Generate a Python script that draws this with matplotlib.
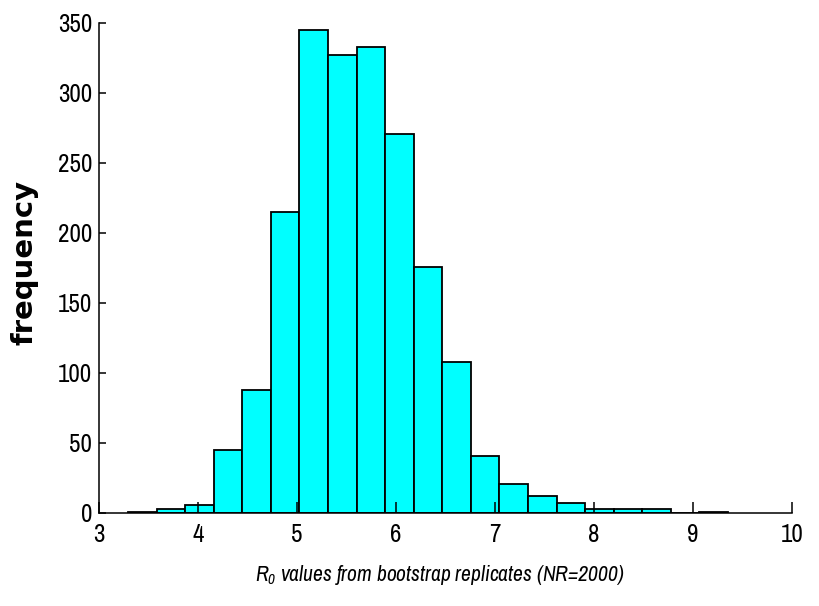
import matplotlib
matplotlib.use("Agg")
import matplotlib.pyplot as plt
import numpy as np

# histogram of bootstrap R0 estimates (21 equal bins, MATLAB hist style)
bin_lo = 3.293
bin_hi = 9.354
counts = [1, 3, 6, 45, 88, 215, 345, 327, 333, 271, 176,
          108, 41, 21, 12, 7, 3, 3, 3, 0, 1]
xticks = [3, 4, 5, 6, 7, 8, 9, 10]
yticks = [0, 50, 100, 150, 200, 250, 300, 350]

edges = np.linspace(bin_lo, bin_hi, len(counts) + 1)

narrow = ["Archivo Narrow", "DejaVu Sans"]
plt.rcParams["mathtext.fontset"] = "custom"
plt.rcParams["mathtext.it"] = "Archivo Narrow:italic"
plt.rcParams["mathtext.rm"] = "Archivo Narrow:italic"

fig = plt.figure(figsize=(8.19, 6.06), dpi=100)
ax = fig.add_axes([99 / 819, 93 / 606, 693 / 819, 490 / 606])

ax.bar(edges[:-1], counts, width=np.diff(edges), align="edge",
       color="#00ffff", edgecolor="black", linewidth=1.3)

ax.set_xlim(3, 10)
ax.set_ylim(0, 350)
ax.set_xticks(xticks)
ax.set_yticks(yticks)
ax.tick_params(axis="x", direction="in", length=8, width=1.1, labelsize=18, pad=7)
ax.tick_params(axis="y", direction="in", length=5, width=1.1, labelsize=18, pad=5)
for lab in ax.get_xticklabels() + ax.get_yticklabels():
    lab.set_family(narrow)

ax.spines["top"].set_visible(False)
ax.spines["right"].set_visible(False)
ax.spines["left"].set_linewidth(1.1)
ax.spines["bottom"].set_linewidth(1.1)

ax.set_xlabel(r"$R_0$ values from bootstrap replicates (NR=2000)",
              family=narrow, style="italic", fontsize=15.5, va="top")
ax.xaxis.set_label_coords(0.492, -0.102)
ax.set_ylabel("frequency", family="DejaVu Sans", fontweight="bold", fontsize=21)
ax.yaxis.set_label_coords(-0.087, 0.512)

fig.savefig("out.png", dpi=100)
